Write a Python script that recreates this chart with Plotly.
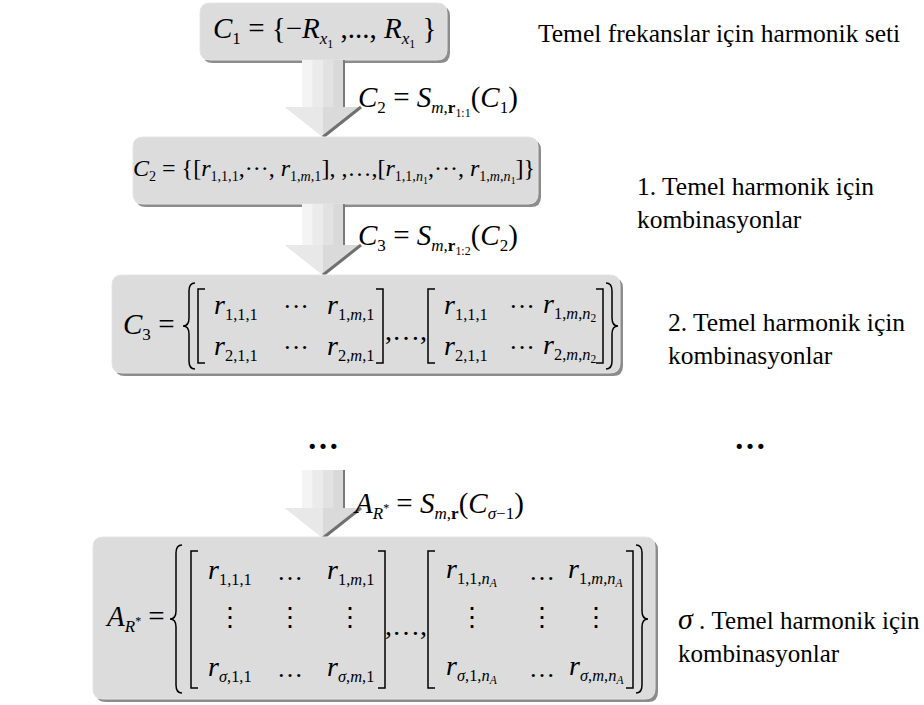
import re
import plotly.graph_objects as go

W, H = 924, 705
MATH_FONT = "Liberation Serif"

# ---- texts of the diagram ----
box1_formula = "<i>C</i><sub>1</sub> = {−<i>R</i><sub><i>x</i><sub>1</sub></sub> ,..., <i>R</i><sub><i>x</i><sub>1</sub></sub> }"
box2_formula = ("<i>C</i><sub>2</sub> = {[<i>r</i><sub>1,1,1</sub>,···, <i>r</i><sub>1,<i>m</i>,1</sub>], ,…,"
                "[<i>r</i><sub>1,1,<i>n</i><sub>1</sub></sub>,···, <i>r</i><sub>1,<i>m</i>,<i>n</i><sub>1</sub></sub>]}")
box3_lhs = "<i>C</i><sub>3</sub> ="
box5_lhs = "<i>A</i><sub><i>R</i><sup>*</sup></sub> ="

arrow_labels = [
    "<i>C</i><sub>2</sub> = <i>S</i><sub><i>m</i>,<b>r</b><sub>1:1</sub></sub>(<i>C</i><sub>1</sub>)",
    "<i>C</i><sub>3</sub> = <i>S</i><sub><i>m</i>,<b>r</b><sub>1:2</sub></sub>(<i>C</i><sub>2</sub>)",
    "<i>A</i><sub><i>R</i><sup>*</sup></sub> = <i>S</i><sub><i>m</i>,<b>r</b></sub>(<i>C</i><sub><i>σ</i>−1</sub>)",
]

side_notes = [
    "Temel frekanslar için harmonik seti",
    "1. Temel harmonik için<br>kombinasyonlar",
    "2. Temel harmonik için<br>kombinasyonlar",
    "<span style='font-size:30px'><i>σ</i></span> . Temel harmonik için<br>kombinasyonlar",
]

# matrix entries
c3_left = [["<i>r</i><sub>1,1,1</sub>", "···", "<i>r</i><sub>1,<i>m</i>,1</sub>"],
           ["<i>r</i><sub>2,1,1</sub>", "···", "<i>r</i><sub>2,<i>m</i>,1</sub>"]]
c3_right = [["<i>r</i><sub>1,1,1</sub>", "···", "<i>r</i><sub>1,<i>m</i>,<i>n</i><sub>2</sub></sub>"],
            ["<i>r</i><sub>2,1,1</sub>", "···", "<i>r</i><sub>2,<i>m</i>,<i>n</i><sub>2</sub></sub>"]]
a_left = [["<i>r</i><sub>1,1,1</sub>", "…", "<i>r</i><sub>1,<i>m</i>,1</sub>"],
          ["⋮", "⋮", "⋮"],
          ["<i>r</i><sub><i>σ</i>,1,1</sub>", "…", "<i>r</i><sub><i>σ</i>,<i>m</i>,1</sub>"]]
a_right = [["<i>r</i><sub>1,1,<i>n</i><sub><i>A</i></sub></sub>", "…", "<i>r</i><sub>1,<i>m</i>,<i>n</i><sub><i>A</i></sub></sub>"],
           ["⋮", "⋮", "⋮"],
           ["<i>r</i><sub><i>σ</i>,1,<i>n</i><sub><i>A</i></sub></sub>", "…", "<i>r</i><sub><i>σ</i>,<i>m</i>,<i>n</i><sub><i>A</i></sub></sub>"]]

fig = go.Figure()


def small_subs(s):
    # shrink only the first level of sub/superscripts a little (math style)
    out, depth = [], 0
    for tok in re.split(r"(</?su[bp]>)", s):
        if tok in ("<sub>", "<sup>"):
            out.append(tok + ("<span style='font-size:84%'>" if depth == 0 else ""))
            depth += 1
        elif tok in ("</sub>", "</sup>"):
            depth -= 1
            out.append(("</span>" if depth == 0 else "") + tok)
        else:
            out.append(tok)
    return "".join(out)


def text(x, y, s, size=28, anchor="left", bold=False):
    fig.add_annotation(x=x, y=y, text=small_subs(s), showarrow=False, xanchor=anchor,
                       yanchor="middle", align="left", borderpad=0,
                       font=dict(family=MATH_FONT, size=size, color="black",
                                 weight="bold" if bold else "normal"))


def rrect(x0, y0, x1, y1, r):
    return (f"M{x0+r},{y0} L{x1-r},{y0} Q{x1},{y0} {x1},{y0+r} L{x1},{y1-r} "
            f"Q{x1},{y1} {x1-r},{y1} L{x0+r},{y1} Q{x0},{y1} {x0},{y1-r} "
            f"L{x0},{y0+r} Q{x0},{y0} {x0+r},{y0} Z")


def box(x0, y0, x1, y1, r=10):
    fig.add_shape(type="path", path=rrect(x0 + 3, y0 + 3, x1 + 3, y1 + 3, r),
                  fillcolor="#8c8c8c", line=dict(width=0), layer="below")
    fig.add_shape(type="path", path=rrect(x0, y0, x1, y1, r),
                  fillcolor="#dcdcdc", line=dict(color="#e4e4e4", width=1), layer="below")


def arrow(cx, y0, y1, sw=21, hw=38, hh=30):
    yb = y1 - hh
    stripes = ["#f4f4f4", "#ebebeb", "#e2e2e2", "#d9d9d9"]
    step = 2 * sw / len(stripes)
    for i, c in enumerate(stripes):
        fig.add_shape(type="rect", x0=cx - sw + i * step, x1=cx - sw + (i + 1) * step + 0.5,
                      y0=y0, y1=yb, fillcolor=c, line=dict(width=0), layer="below")
    fig.add_shape(type="line", x0=cx + sw, x1=cx + sw, y0=y0, y1=yb,
                  line=dict(color="#7a7a7a", width=2), layer="below")
    fig.add_shape(type="path", path=f"M{cx-hw},{yb} L{cx+hw},{yb} L{cx},{y1} Z",
                  fillcolor="#dadada", line=dict(width=0), layer="below")
    fig.add_shape(type="path", path=f"M{cx-hw},{yb} L{cx},{yb} L{cx},{y1} Z",
                  fillcolor="#e8e8e8", line=dict(width=0), layer="below")
    fig.add_shape(type="line", x0=cx + hw, y0=yb, x1=cx, y1=y1,
                  line=dict(color="#707070", width=3), layer="below")


def bracket(x, y0, y1, side, w=7):
    d = w if side == "left" else -w
    fig.add_shape(type="path", path=f"M{x+d},{y0} L{x},{y0} L{x},{y1} L{x+d},{y1}",
                  line=dict(color="black", width=1.5))


def brace(x, y0, y1, side, w=12):
    # x: position of the vertical stems, tip points outward
    s = -1 if side == "left" else 1
    ym = (y0 + y1) / 2
    r = 8
    xe = x - s * w / 2
    xt = x + s * w / 2
    p = (f"M{xe},{y0} Q{x},{y0} {x},{y0+r} L{x},{ym-r} Q{x},{ym} {xt},{ym} "
         f"Q{x},{ym} {x},{ym+r} L{x},{y1-r} Q{x},{y1} {xe},{y1}")
    fig.add_shape(type="path", path=p, line=dict(color="black", width=1.5))


def matrix(entries, xl, xr, cols, rows, y0, y1, size=28):
    bracket(xl, y0, y1, "left")
    bracket(xr, y0, y1, "right")
    for i, row in enumerate(entries):
        for j, e in enumerate(row):
            text(cols[j], rows[i], e, size=size - 2 if e in ("⋮", "···", "…") else size,
                 anchor="center")


# ---- stage 1 ----
box(200, 3, 447, 60)
text(324, 31, box1_formula, size=29, anchor="center")
text(537, 33, side_notes[0], size=25.5)

arrow(323, 60, 137)
text(357, 100, arrow_labels[0], size=29)

# ---- stage 2 ----
box(133, 137, 538, 204)
text(334, 170, box2_formula, size=24, anchor="center")
text(636, 203, side_notes[1], size=25.5)

arrow(323, 204, 275)
text(357, 238, arrow_labels[1], size=29)

# ---- stage 3 ----
box(112, 275, 620, 373)
text(122, 326, box3_lhs, size=29)
brace(189, 283, 369, "left")
matrix(c3_left, 198, 383, [236, 296, 350], [306, 347], 289, 363)
text(406, 330, ",…,", anchor="center")
matrix(c3_right, 428, 603, [466, 522, 570], [306, 347], 289, 363)
brace(612, 283, 369, "right")
text(667, 339, side_notes[2], size=25.5)

# ---- dots ----
text(323, 438, "…", size=32, anchor="center", bold=True)
text(750, 438, "…", size=32, anchor="center", bold=True)

# ---- final stage ----
arrow(323, 470, 538)
text(352, 505, arrow_labels[2], size=29)

box(93, 537, 655, 699)
text(104, 618, box5_lhs, size=29)
brace(176, 545, 693, "left")
matrix(a_left, 191, 385, [230, 290, 350], [571, 617, 668], 551, 688)
text(406, 625, ",…,", anchor="center")
matrix(a_right, 428, 633, [472, 542, 596], [571, 617, 668], 551, 688)
brace(642, 545, 693, "right")
text(677, 634, side_notes[3], size=25)

fig.update_layout(
    width=W, height=H,
    margin=dict(l=0, r=0, t=0, b=0),
    paper_bgcolor="white", plot_bgcolor="white",
    showlegend=False,
    xaxis=dict(range=[0, W], visible=False, fixedrange=True),
    yaxis=dict(range=[H, 0], visible=False, fixedrange=True),
)

fig.write_html("out.html", config={"displayModeBar": False},
               post_script="document.body.style.margin='0px';")
